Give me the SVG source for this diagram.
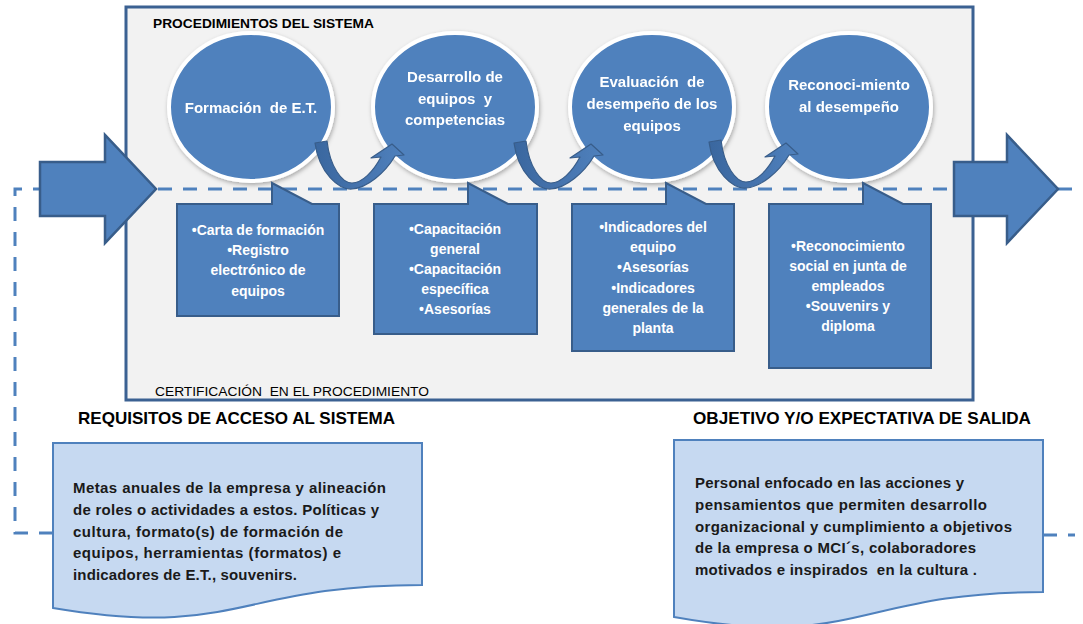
<svg xmlns="http://www.w3.org/2000/svg" width="1083" height="624" viewBox="0 0 1083 624">
<defs>
<style>
.frame{fill:#f2f2f2;stroke:#3b6192;stroke-width:3}
.circ{fill:#4f81bd;stroke:#ffffff;stroke-width:4}
.call{fill:#4f81bd;stroke:#385d8a;stroke-width:2}
.big{fill:#4f81bd;stroke:#385d8a;stroke-width:2.5;stroke-linejoin:miter}
.doc{fill:#c6d9f1;stroke:#4f81bd;stroke-width:2}
.dash{fill:none;stroke:#4f81bd;stroke-width:3;stroke-dasharray:14 11}
.ct{font-family:"Liberation Sans",Arial,sans-serif;font-weight:bold;font-size:15px;fill:#ffffff;text-anchor:middle;white-space:pre}
.kt{font-family:"Liberation Sans",Arial,sans-serif;font-weight:bold;font-size:14px;fill:#ffffff;text-anchor:middle}
.lab{font-family:"Liberation Sans",Arial,sans-serif;font-size:13.7px;fill:#000000;white-space:pre}
.hd{font-family:"Liberation Sans",Arial,sans-serif;font-weight:bold;font-size:17px;fill:#000000;text-anchor:middle}
.bt{font-family:"Liberation Sans",Arial,sans-serif;font-weight:bold;font-size:15px;fill:#1a1a1a;white-space:pre}
.carrow{fill:url(#cg);stroke:#385d8a;stroke-width:1.2;stroke-linejoin:round}
</style>
<linearGradient id="cg" x1="0" y1="0" x2="1" y2="0">
<stop offset="0" stop-color="#3a679f"/>
<stop offset="0.5" stop-color="#4573ad"/>
<stop offset="1" stop-color="#4f81bd"/>
</linearGradient>
<filter id="sh" x="-20%" y="-20%" width="140%" height="140%">
<feDropShadow dx="1" dy="2" stdDeviation="2" flood-color="#000" flood-opacity="0.3"/>
</filter>
<path id="ca" d="M0,0 C4,30 24,47 37,46 C52,45 70,30 80,13 L89,12 L77,1 L56,15 L66,14 C58,29 47,40 37,40 C27,40 15,24 12,-2 Z"/>
</defs>

<g id="frame">
<rect class="frame" x="126" y="7" width="847" height="393"/>
<text class="lab" x="153" y="28" font-weight="bold" textLength="221" lengthAdjust="spacingAndGlyphs">PROCEDIMIENTOS DEL SISTEMA</text>
<text class="lab" x="155" y="396" textLength="274" lengthAdjust="spacingAndGlyphs">CERTIFICACIÓN  EN EL PROCEDIMIENTO</text>
</g>

<g id="connectors">
<path class="dash" d="M53,533 H15 V189 H1073"/>
<path class="dash" d="M1043,535 H1075"/>
</g>

<g id="circle1" filter="url(#sh)">
<ellipse class="circ" cx="251" cy="107" rx="82" ry="74"/>
<text class="ct" x="251" y="113">Formación  de E.T.</text>
</g>
<g id="circle2" filter="url(#sh)">
<ellipse class="circ" cx="455" cy="107" rx="82" ry="74"/>
<text class="ct" x="455" y="82">Desarrollo de</text>
<text class="ct" x="455" y="104">equipos  y</text>
<text class="ct" x="455" y="125">competencias</text>
</g>
<g id="circle3" filter="url(#sh)">
<ellipse class="circ" cx="652" cy="107" rx="82" ry="74"/>
<text class="ct" x="652" y="87">Evaluación  de</text>
<text class="ct" x="652" y="109">desempeño de los</text>
<text class="ct" x="652" y="131">equipos</text>
</g>
<g id="circle4" filter="url(#sh)">
<ellipse class="circ" cx="849" cy="107" rx="82" ry="74"/>
<text class="ct" x="849" y="90">Reconoci-miento</text>
<text class="ct" x="849" y="112">al desempeño</text>
</g>

<g id="curved-arrows">
<use href="#ca" class="carrow" transform="translate(315,143)"/>
<use href="#ca" class="carrow" transform="translate(514,143)"/>
<use href="#ca" class="carrow" transform="translate(709,142)"/>
</g>

<g id="callout1">
<path class="call" d="M177,204 H272 V183 L312,204 H339 V316 H177 Z"/>
<text class="kt" x="258" y="235">•Carta de formación</text>
<text class="kt" x="258" y="255">•Registro</text>
<text class="kt" x="258" y="275">electrónico de</text>
<text class="kt" x="258" y="296">equipos</text>
</g>
<g id="callout2">
<path class="call" d="M374,204 H468 V183 L508,204 H537 V334 H374 Z"/>
<text class="kt" x="455" y="234">•Capacitación</text>
<text class="kt" x="455" y="254">general</text>
<text class="kt" x="455" y="274">•Capacitación</text>
<text class="kt" x="455" y="294">específica</text>
<text class="kt" x="455" y="314">•Asesorías</text>
</g>
<g id="callout3">
<path class="call" d="M572,204 H666 V183 L706,204 H734 V351 H572 Z"/>
<text class="kt" x="653" y="232">•Indicadores del</text>
<text class="kt" x="653" y="252">equipo</text>
<text class="kt" x="653" y="272">•Asesorías</text>
<text class="kt" x="653" y="293">•Indicadores</text>
<text class="kt" x="653" y="313">generales de la</text>
<text class="kt" x="653" y="333">planta</text>
</g>
<g id="callout4">
<path class="call" d="M769,204 H863 V183 L903,204 H931 V368 H769 Z"/>
<text class="kt" x="848" y="251">•Reconocimiento</text>
<text class="kt" x="848" y="271">social en junta de</text>
<text class="kt" x="848" y="291">empleados</text>
<text class="kt" x="848" y="311">•Souvenirs y</text>
<text class="kt" x="848" y="331">diploma</text>
</g>

<g id="input-arrow">
<path class="big" d="M40,162 H105 V135 L156,189 L105,243 V216 H40 Z"/>
</g>
<g id="output-arrow">
<path class="big" d="M954,162 H1007 V135 L1058,189 L1007,243 V216 H954 Z"/>
</g>

<g id="requisitos">
<text class="hd" x="236.5" y="424" textLength="317" lengthAdjust="spacingAndGlyphs">REQUISITOS DE ACCESO AL SISTEMA</text>
<path class="doc" d="M53,443 H422 V585 C237.5,585 237.5,639 53,608 Z"/>
<text class="bt" x="73" y="493" textLength="313">Metas anuales de la empresa y alineación</text>
<text class="bt" x="73" y="515" textLength="306">de roles o actividades a estos. Políticas y</text>
<text class="bt" x="73" y="537" textLength="270">cultura, formato(s) de formación de</text>
<text class="bt" x="73" y="558" textLength="268">equipos, herramientas (formatos) e</text>
<text class="bt" x="73" y="580" textLength="224">indicadores de E.T., souvenirs.</text>
</g>

<g id="objetivo">
<text class="hd" x="862" y="424" textLength="338" lengthAdjust="spacingAndGlyphs">OBJETIVO Y/O EXPECTATIVA DE SALIDA</text>
<path class="doc" d="M674,440 H1043 V592 C858.5,592 858.5,650 674,617 Z"/>
<text class="bt" x="695" y="488" textLength="269">Personal enfocado en las acciones y</text>
<text class="bt" x="695" y="510" textLength="292">pensamientos que permiten desarrollo</text>
<text class="bt" x="695" y="532" textLength="317">organizacional y cumplimiento a objetivos</text>
<text class="bt" x="695" y="553" textLength="281">de la empresa o MCI´s, colaboradores</text>
<text class="bt" x="695" y="575" textLength="282">motivados e inspirados  en la cultura .</text>
</g>
</svg>
